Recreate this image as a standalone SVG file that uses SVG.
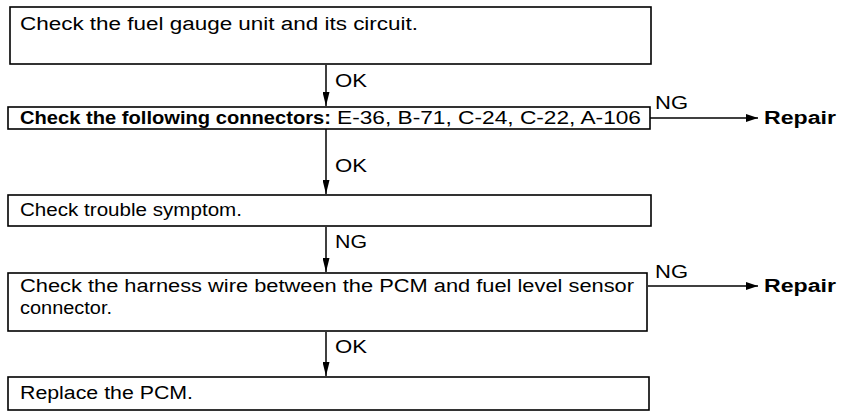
<svg xmlns="http://www.w3.org/2000/svg" width="864" height="420" viewBox="0 0 864 420">
<style>
.box{fill:#fff;stroke:#000;stroke-width:1.6}
.t{font-family:"Liberation Sans",Arial,sans-serif;font-size:18px;fill:#000}
.b{font-weight:bold}
.c{stroke:#000;stroke-width:1.5;fill:none}
</style>
<defs>
<marker id="down" viewBox="0 0 14 7" refX="14" refY="3.5" markerWidth="14" markerHeight="7" markerUnits="userSpaceOnUse" orient="auto">
<path d="M0,0 L14,3.5 L0,7 Z" fill="#000"/>
</marker>
<marker id="right" viewBox="0 0 12 8" refX="12" refY="4" markerWidth="12" markerHeight="8" markerUnits="userSpaceOnUse" orient="auto">
<path d="M0,0 L12,4 L0,8 Z" fill="#000"/>
</marker>
</defs>
<rect width="864" height="420" fill="#fff"/>
<g id="connectors">
<line class="c" x1="326" y1="65" x2="326" y2="106" marker-end="url(#down)"/>
<text class="t" x="335" y="87" textLength="32" lengthAdjust="spacingAndGlyphs">OK</text>
<line class="c" x1="326" y1="129" x2="326" y2="194" marker-end="url(#down)"/>
<text class="t" x="335" y="172" textLength="32" lengthAdjust="spacingAndGlyphs">OK</text>
<line class="c" x1="326" y1="227" x2="326" y2="272" marker-end="url(#down)"/>
<text class="t" x="335" y="248" textLength="32" lengthAdjust="spacingAndGlyphs">NG</text>
<line class="c" x1="326" y1="332" x2="326" y2="376" marker-end="url(#down)"/>
<text class="t" x="335" y="353" textLength="32" lengthAdjust="spacingAndGlyphs">OK</text>
<line class="c" x1="650" y1="118" x2="758" y2="118" marker-end="url(#right)"/>
<text class="t" x="655" y="109" textLength="33" lengthAdjust="spacingAndGlyphs">NG</text>
<line class="c" x1="648" y1="286" x2="758" y2="286" marker-end="url(#right)"/>
<text class="t" x="655" y="278" textLength="33" lengthAdjust="spacingAndGlyphs">NG</text>
</g>
<g id="n1">
<rect class="box" x="10" y="7" width="641" height="57"/>
<text class="t" x="20" y="30" textLength="398" lengthAdjust="spacingAndGlyphs">Check the fuel gauge unit and its circuit.</text>
</g>
<g id="n2">
<rect class="box" x="8" y="107" width="642" height="22"/>
<text class="t" y="124"><tspan class="b" x="20" textLength="311" lengthAdjust="spacingAndGlyphs">Check the following connectors:</tspan><tspan x="337" textLength="304" lengthAdjust="spacingAndGlyphs">E-36, B-71, C-24, C-22, A-106</tspan></text>
</g>
<g id="r1">
<text class="t b" x="764" y="124" textLength="72" lengthAdjust="spacingAndGlyphs">Repair</text>
</g>
<g id="n3">
<rect class="box" x="8" y="195" width="643" height="31"/>
<text class="t" x="20" y="216" textLength="222" lengthAdjust="spacingAndGlyphs">Check trouble symptom.</text>
</g>
<g id="n4">
<rect class="box" x="8" y="273" width="639" height="58"/>
<text class="t" x="20" y="292" textLength="614" lengthAdjust="spacingAndGlyphs">Check the harness wire between the PCM and fuel level sensor</text>
<text class="t" x="20" y="314" textLength="92" lengthAdjust="spacingAndGlyphs">connector.</text>
</g>
<g id="r2">
<text class="t b" x="764" y="292" textLength="72" lengthAdjust="spacingAndGlyphs">Repair</text>
</g>
<g id="n5">
<rect class="box" x="8" y="377" width="641" height="33"/>
<text class="t" x="20" y="399" textLength="173" lengthAdjust="spacingAndGlyphs">Replace the PCM.</text>
</g>
</svg>
